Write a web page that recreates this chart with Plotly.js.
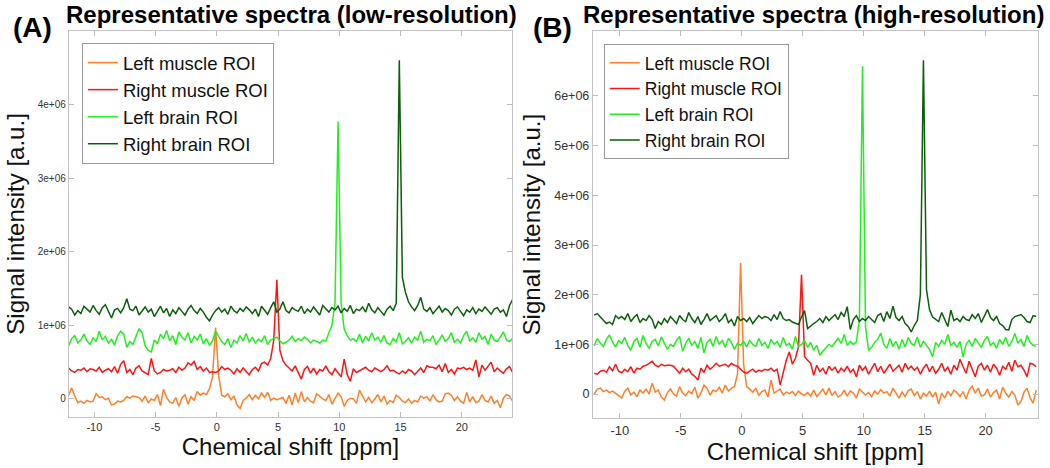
<!DOCTYPE html>
<html>
<head>
<meta charset="utf-8">
<script src="https://cdn.plot.ly/plotly-3.0.1.min.js"></script>
<style>
html,body{margin:0;padding:0;background:#fff;}
#chart{width:1050px;height:468px;}
</style>
</head>
<body>
<div id="chart"></div>
<script>
// Chemical shift grid (ppm): first sample and spacing
const ppmStart = -12.1;
const ppmStep = 0.25;

const seriesNames = ["Left muscle ROI", "Right muscle ROI", "Left brain ROI", "Right brain ROI"];
const seriesColors = ["#ff7f2a", "#ff1414", "#22ee22", "#0b5e0b"];

// Signal intensity in units of 1e6 a.u. -- low-resolution panel (A)
const lowLeftMuscle = [
0.05,0.15,0.04,-0.05,-0.03,-0.06,-0.02,-0.04,-0.03,0.07,
0.02,0.03,-0.01,0.01,-0.08,-0.07,-0.03,-0.04,-0.02,0.03,
0.01,0.04,0.03,0.02,-0.03,0.04,-0.05,0.00,-0.02,0.06,
-0.09,0.13,0.02,-0.04,-0.06,0.02,-0.10,0.01,0.06,-0.07,
0.03,-0.02,0.10,0.05,0.08,0.06,0.14,0.30,0.97,0.32,
0.05,0.03,0.07,-0.01,0.04,-0.08,-0.13,-0.02,0.01,0.06,
-0.01,0.05,0.00,0.08,0.02,0.09,-0.02,0.01,-0.01,0.00,
0.02,-0.06,0.05,-0.08,0.08,-0.05,0.10,-0.04,0.02,-0.03,
-0.05,0.07,0.03,0.00,-0.02,0.06,-0.07,0.01,0.08,0.03,
-0.10,-0.02,0.01,0.00,-0.06,0.12,0.03,-0.04,0.02,-0.05,
0.00,0.06,-0.04,0.04,-0.07,-0.02,-0.05,0.05,0.02,-0.03,
-0.05,0.00,-0.06,-0.02,-0.04,0.04,0.01,0.03,-0.03,0.06,
-0.01,-0.04,-0.03,0.07,0.08,0.05,-0.02,0.03,-0.03,-0.06,
0.09,-0.04,0.03,-0.05,-0.03,0.06,-0.02,-0.04,0.04,-0.06,
-0.02,-0.12,0.01,0.06,0.04,-0.03];
const lowRightMuscle = [
0.42,0.38,0.36,0.40,0.39,0.42,0.37,0.41,0.40,0.38,
0.43,0.36,0.39,0.41,0.37,0.44,0.35,0.47,0.52,0.36,
0.40,0.33,0.42,0.45,0.38,0.36,0.33,0.55,0.38,0.34,
0.36,0.40,0.38,0.39,0.41,0.36,0.43,0.39,0.42,0.49,
0.46,0.51,0.40,0.44,0.38,0.42,0.36,0.37,0.36,0.38,
0.44,0.40,0.42,0.39,0.34,0.41,0.36,0.42,0.38,0.33,
0.40,0.43,0.38,0.48,0.50,0.46,0.55,0.80,1.62,0.66,
0.52,0.46,0.42,0.38,0.45,0.35,0.27,0.40,0.44,0.35,
0.42,0.34,0.40,0.38,0.45,0.37,0.33,0.41,0.36,0.30,
0.54,0.33,0.24,0.41,0.36,0.38,0.40,0.43,0.39,0.37,
0.42,0.40,0.37,0.40,0.45,0.38,0.39,0.36,0.34,0.38,
0.35,0.40,0.38,0.33,0.37,0.42,0.36,0.45,0.43,0.43,
0.41,0.46,0.37,0.48,0.36,0.40,0.34,0.42,0.41,0.43,
0.40,0.42,0.39,0.53,0.30,0.46,0.39,0.44,0.50,0.37,
0.42,0.38,0.35,0.41,0.44,0.36];
const lowLeftBrain = [
0.72,0.82,0.86,0.76,0.80,0.88,0.79,0.74,0.83,0.78,
0.92,0.80,0.85,0.76,0.81,0.73,0.86,0.92,0.88,0.70,
0.78,0.74,0.85,0.95,0.90,0.72,0.66,0.64,0.80,0.75,
0.88,0.82,0.93,0.79,0.86,0.74,0.91,0.84,0.80,0.90,
0.76,0.85,0.80,0.88,0.75,0.82,0.73,0.79,0.92,0.84,
0.78,0.74,0.82,0.70,0.80,0.76,0.86,0.79,0.89,0.77,
0.84,0.76,0.81,0.78,0.86,0.74,0.80,0.82,0.84,0.79,
0.75,0.77,0.80,0.85,0.78,0.82,0.79,0.84,0.81,0.76,
0.80,0.78,0.76,0.80,0.78,0.90,1.00,1.30,3.77,1.30,
0.95,0.86,0.80,0.82,0.78,0.88,0.76,0.85,0.79,0.90,
0.80,0.84,0.77,0.86,0.76,0.74,0.82,0.78,0.90,0.75,
0.78,0.83,0.76,0.84,0.80,0.92,0.77,0.81,0.79,0.86,
0.74,0.80,0.87,0.78,0.82,0.90,0.77,0.81,0.76,0.86,
0.92,0.79,0.83,0.77,0.90,0.81,0.85,0.74,0.88,0.80,
0.78,0.84,0.91,0.80,0.78,0.82];
const lowRightBrain = [
1.25,1.22,1.14,1.20,1.16,1.26,1.22,1.18,1.27,1.20,
1.15,1.24,1.28,1.19,1.10,1.21,1.23,1.17,1.24,1.36,
1.22,1.20,1.26,1.14,1.19,1.25,1.18,1.22,1.12,1.20,
1.26,1.17,1.23,1.12,1.21,1.16,1.24,1.19,1.14,1.22,
1.27,1.20,1.16,1.23,1.18,1.11,1.06,1.14,1.20,1.24,
1.18,1.22,1.15,1.26,1.20,1.17,1.23,1.19,1.25,1.21,
1.16,1.22,1.12,1.26,1.20,1.15,1.24,1.32,1.18,1.22,
1.32,1.20,1.17,1.24,1.21,1.19,1.26,1.16,1.22,1.18,
1.25,1.20,1.14,1.27,1.22,1.18,1.24,1.21,1.26,1.17,
1.23,1.19,1.27,1.16,1.22,1.20,1.25,1.18,1.30,1.21,
1.17,1.24,1.19,1.14,1.22,1.26,1.20,1.30,4.60,1.65,
1.45,1.32,1.25,1.20,1.27,1.38,1.22,1.19,1.24,1.16,
1.21,1.26,1.18,1.23,1.20,1.14,1.22,1.25,1.19,1.13,
1.21,1.18,1.24,1.16,1.22,1.19,1.25,1.20,1.15,1.22,
1.24,1.18,1.21,1.12,1.27,1.35];

// Signal intensity in units of 1e6 a.u. -- high-resolution panel (B)
const highLeftMuscle = [
0.00,0.10,0.12,0.05,0.08,0.03,0.06,0.02,-0.03,-0.08,
0.06,0.12,-0.02,0.04,-0.05,0.08,0.02,0.10,0.00,0.22,
0.04,0.08,-0.06,-0.12,0.03,0.10,0.00,-0.04,0.15,0.02,
-0.03,0.06,0.01,0.14,-0.08,0.02,0.18,0.12,-0.02,0.08,
0.05,0.14,0.02,0.18,0.06,0.12,0.15,0.40,2.64,0.60,
0.15,0.10,0.04,0.12,-0.03,0.05,0.08,-0.06,0.28,0.02,
0.06,0.10,-0.02,0.04,0.01,0.05,-0.03,0.06,0.00,-0.02,
0.03,-0.04,0.08,-0.05,0.02,0.10,-0.02,0.12,-0.03,0.05,
-0.06,-0.02,0.08,-0.04,0.06,0.02,-0.08,0.10,0.04,-0.02,
0.03,-0.05,0.06,0.00,0.09,0.02,0.05,-0.04,0.12,0.02,
-0.08,0.04,-0.05,0.07,0.10,-0.03,0.05,-0.10,0.02,-0.04,
0.06,-0.06,0.04,-0.20,0.02,-0.08,0.06,-0.03,0.08,0.03,
-0.05,0.05,-0.10,0.08,0.16,0.02,0.12,-0.04,-0.02,0.10,
-0.06,0.03,0.08,-0.10,0.14,0.02,-0.06,0.05,-0.02,-0.22,
-0.15,0.04,0.12,-0.08,-0.18,0.08];
const highRightMuscle = [
0.42,0.40,0.46,0.48,0.44,0.55,0.47,0.60,0.46,0.43,
0.50,0.45,0.55,0.42,0.52,0.50,0.56,0.58,0.62,0.66,
0.58,0.55,0.60,0.57,0.58,0.58,0.56,0.48,0.42,0.52,
0.45,0.50,0.40,0.36,0.28,0.52,0.44,0.58,0.50,0.55,
0.62,0.56,0.58,0.60,0.55,0.62,0.58,0.56,0.50,0.44,
0.42,0.46,0.50,0.44,0.48,0.46,0.50,0.48,0.52,0.46,
0.50,0.18,0.45,0.68,0.85,0.60,0.72,0.95,2.40,0.75,
0.68,0.62,0.38,0.58,0.45,0.52,0.40,0.56,0.48,0.54,
0.42,0.52,0.46,0.56,0.44,0.50,0.35,0.58,0.48,0.55,
0.40,0.52,0.62,0.45,0.56,0.42,0.50,0.60,0.46,0.52,
0.58,0.44,0.62,0.50,0.56,0.48,0.54,0.40,0.52,0.60,
0.45,0.56,0.42,0.50,0.62,0.46,0.54,0.40,0.58,0.48,
0.70,0.55,0.42,0.66,0.50,0.35,0.56,0.62,0.48,0.58,
0.44,0.60,0.52,0.38,0.56,0.50,0.64,0.46,0.68,0.55,
0.58,0.48,0.35,0.62,0.60,0.55];
const highLeftBrain = [
0.97,1.12,1.02,0.96,1.10,1.19,1.05,0.95,1.08,1.02,
1.14,0.98,0.88,1.06,1.12,0.94,1.18,1.02,0.92,1.06,
1.10,0.97,1.15,1.04,0.90,1.00,0.96,1.08,1.16,0.86,
1.02,1.12,0.98,1.06,0.92,1.14,0.83,1.04,1.10,0.96,
1.16,1.00,1.08,0.94,1.12,1.04,0.90,1.02,0.98,1.06,
0.95,1.08,1.00,0.96,1.12,0.98,1.04,0.92,1.10,1.00,
1.06,0.94,1.14,0.98,1.02,0.90,1.16,0.96,1.00,1.08,
0.94,1.04,0.88,0.98,0.78,0.86,0.94,1.00,0.96,1.04,
1.12,1.02,1.20,0.98,1.06,1.00,1.05,1.50,6.60,1.35,
0.88,0.94,1.04,1.10,1.23,1.00,0.92,1.12,0.96,1.06,
0.90,1.10,0.95,1.14,1.02,0.98,1.15,0.94,1.06,0.98,
0.90,0.75,1.04,0.96,1.08,1.00,1.20,0.98,1.04,0.94,
1.06,0.75,1.00,1.08,0.96,1.12,1.02,0.94,1.08,1.16,
0.98,1.04,0.92,1.10,1.00,1.14,0.96,1.06,1.22,1.02,
1.10,0.96,1.18,1.04,0.98,0.96];
const highRightBrain = [
1.59,1.62,1.55,1.48,1.42,1.45,1.40,1.58,1.52,1.56,
1.50,1.62,1.46,1.54,1.60,1.44,1.52,1.48,1.58,1.50,
1.32,1.46,1.40,1.52,1.44,1.56,1.48,1.42,1.58,1.50,
1.46,1.64,1.52,1.44,1.56,1.40,1.50,1.62,1.48,1.54,
1.58,1.46,1.52,1.62,1.44,1.50,1.37,1.56,1.48,1.52,
1.46,1.54,1.42,1.50,1.58,1.52,1.56,1.54,1.48,1.60,
1.50,1.66,1.52,1.48,1.50,1.45,1.42,1.40,1.55,1.68,
1.32,1.38,1.42,1.46,1.52,1.44,1.56,1.48,1.54,1.60,
1.50,1.64,1.56,1.76,1.30,1.50,1.58,1.46,1.52,1.48,
1.56,1.50,1.44,1.58,1.62,1.46,1.66,1.52,1.77,1.54,
1.48,1.56,1.42,1.36,1.25,1.38,1.48,2.00,6.72,2.10,
1.70,1.55,1.50,1.46,1.64,1.50,1.36,1.69,1.48,1.52,
1.46,1.56,1.50,1.48,1.60,1.52,1.62,1.44,1.56,1.70,
1.54,1.48,1.56,1.42,1.38,1.30,1.29,1.50,1.56,1.58,
1.60,1.54,1.46,1.44,1.58,1.56];

// Axis ticks
const xTickVals = [-10, -5, 0, 5, 10, 15, 20];
const xTickText = ["-10", "-5", "0", "5", "10", "15", "20"];
const yTickValsA = [0, 1, 2, 3, 4];
const yTickTextA = ["0", "1e+06", "2e+06", "3e+06", "4e+06"];
const yTickValsB = [0, 1, 2, 3, 4, 5, 6];
const yTickTextB = ["0", "1e+06", "2e+06", "3e+06", "4e+06", "5e+06", "6e+06"];

const panelTitles = ["Representative spectra (low-resolution)", "Representative spectra (high-resolution)"];
const panelLabels = ["(A)", "(B)"];
const xTitle = "Chemical shift [ppm]";
const yTitle = "Signal intensity [a.u.]";

const FONT = "Liberation Sans, Arial, Helvetica, sans-serif";
const lowSeries = [lowLeftMuscle, lowRightMuscle, lowLeftBrain, lowRightBrain];
const highSeries = [highLeftMuscle, highRightMuscle, highLeftBrain, highRightBrain];

const traces = [];
lowSeries.forEach((ys, k) => traces.push({
  type: "scatter", mode: "lines", x0: ppmStart, dx: ppmStep, y: ys,
  name: seriesNames[k], line: {color: seriesColors[k], width: 1.5},
  xaxis: "x", yaxis: "y", legend: "legend", cliponaxis: true
}));
highSeries.forEach((ys, k) => traces.push({
  type: "scatter", mode: "lines", x0: ppmStart, dx: ppmStep, y: ys,
  name: seriesNames[k], line: {color: seriesColors[k], width: 1.5},
  xaxis: "x2", yaxis: "y2", legend: "legend2", cliponaxis: true
}));

function xAxis(domain, range, anchor, tickSize) {
  return {
    domain: domain, range: range, anchor: anchor,
    tickmode: "array", tickvals: xTickVals, ticktext: xTickText,
    ticks: "inside", ticklen: 5, tickcolor: "#bdbdbd", tickwidth: 1,
    showline: true, linecolor: "#c4c4c4", linewidth: 1.2, mirror: "all",
    showgrid: false, zeroline: false,
    tickfont: {family: FONT, size: tickSize, color: "#333"},
    title: {text: xTitle, font: {family: FONT, size: 24, color: "#111"}, standoff: 4}
  };
}
function yAxis(domain, range, anchor, vals, text, tickSize) {
  return {
    domain: domain, range: range, anchor: anchor,
    tickmode: "array", tickvals: vals, ticktext: text,
    ticks: "inside", ticklen: 5, tickcolor: "#bdbdbd", tickwidth: 1,
    showline: true, linecolor: "#c4c4c4", linewidth: 1.2, mirror: "all",
    showgrid: false, zeroline: false,
    tickfont: {family: FONT, size: tickSize, color: "#333"},
    title: {text: yTitle, font: {family: FONT, size: 24, color: "#111"}, standoff: 6}
  };
}

const layout = {
  width: 1050, height: 468,
  margin: {l: 0, r: 0, t: 0, b: 0},
  paper_bgcolor: "#fff", plot_bgcolor: "#fff",
  showlegend: true,
  xaxis: xAxis([0.0657, 0.4876], [-12.07, 24.1], "y", 11),
  yaxis: yAxis([0.109, 0.934], [-0.245, 5.0], "x", yTickValsA, yTickTextA, 10),
  xaxis2: xAxis([0.5648, 0.9886], [-12.2, 24.3], "y2", 13),
  yaxis2: yAxis([0.107, 0.933], [-0.48, 7.3], "x2", yTickValsB, yTickTextB, 12.5),
  legend: {
    x: 0.078, y: 0.908, xanchor: "left", yanchor: "top",
    bgcolor: "#fff", bordercolor: "#9a9a9a", borderwidth: 1,
    font: {family: FONT, size: 18.5, color: "#111"}, itemwidth: 30, tracegroupgap: 0
  },
  legend2: {
    x: 0.575, y: 0.906, xanchor: "left", yanchor: "top",
    bgcolor: "#fff", bordercolor: "#9a9a9a", borderwidth: 1,
    font: {family: FONT, size: 17.5, color: "#111"}, itemwidth: 30, tracegroupgap: 0
  },
  annotations: [
    {text: "<b>" + panelTitles[0] + "</b>", xref: "paper", yref: "paper", x: 291/1050, y: 1 - 14/468,
     xanchor: "center", yanchor: "middle", showarrow: false, font: {family: FONT, size: 24, color: "#000"}},
    {text: "<b>" + panelTitles[1] + "</b>", xref: "paper", yref: "paper", x: 813/1050, y: 1 - 14/468,
     xanchor: "center", yanchor: "middle", showarrow: false, font: {family: FONT, size: 24, color: "#000"}},
    {text: "<b>" + panelLabels[0] + "</b>", xref: "paper", yref: "paper", x: 32/1050, y: 1 - 27/468,
     xanchor: "center", yanchor: "middle", showarrow: false, font: {family: FONT, size: 28, color: "#000"}},
    {text: "<b>" + panelLabels[1] + "</b>", xref: "paper", yref: "paper", x: 552/1050, y: 1 - 27/468,
     xanchor: "center", yanchor: "middle", showarrow: false, font: {family: FONT, size: 28, color: "#000"}}
  ]
};

Plotly.newPlot("chart", traces, layout, {staticPlot: true, displayModeBar: false});
</script>
</body>
</html>
